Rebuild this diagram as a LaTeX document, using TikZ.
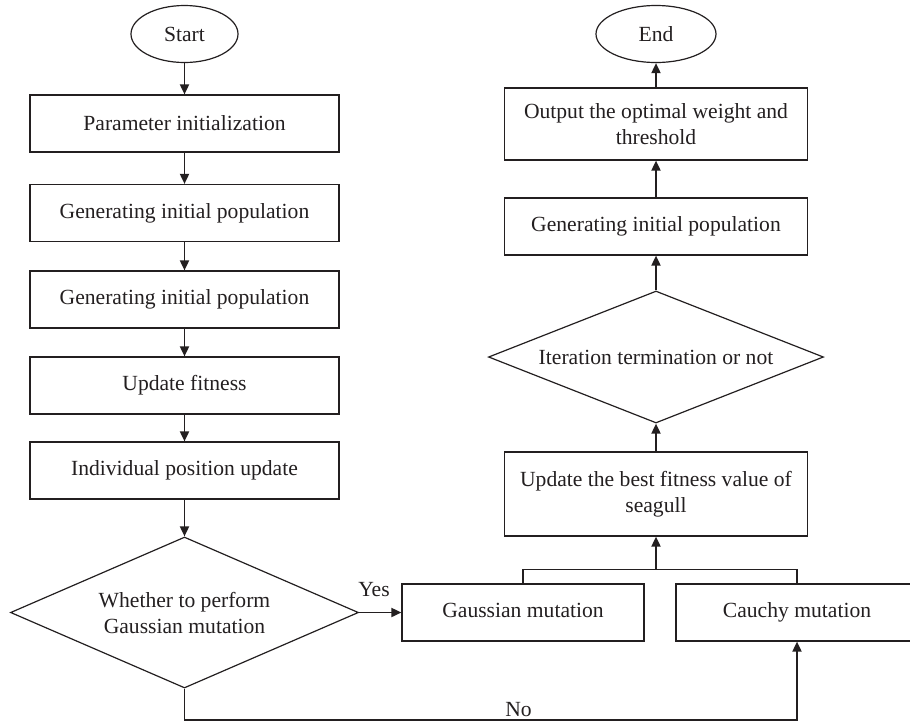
\documentclass[tikz,border=0pt]{standalone}
\usepackage{fontspec}
\setmainfont{Liberation Serif}
\usetikzlibrary{shapes.geometric,arrows.meta}
\definecolor{ink}{RGB}{35,31,32}
\tikzset{
  box/.style={draw=ink,line width=1.2pt,rectangle,minimum width=303pt,minimum height=57pt,inner sep=0pt,align=center},
  oval/.style={draw=ink,line width=1.2pt,ellipse,minimum height=57pt,inner sep=0pt},
  decision/.style={draw=ink,line width=1.2pt,diamond,inner sep=0pt,align=center},
  mutation/.style={box,minimum width=242pt,text height=15pt,text depth=5pt},
  flow/.style={draw=ink,line width=1.8pt,-{Triangle[length=10pt,width=9pt]}},
  wire/.style={draw=ink,line width=1.8pt},
}
\begin{document}
\begin{tikzpicture}[x=1pt,y=-1pt,font=\fontsize{21.6}{26}\selectfont,text=ink]
\useasboundingbox[fill=white] (0.000000,0.000000) rectangle (910.000000,724.000000);
% Drawing left column
\node[oval,minimum width=107pt] (start) at (184.500000,34.000000) {Start};
\node[box,minimum width=309pt] (param) at (184.500000,123.500000) {Parameter initialization};
\node[box,minimum width=309pt] (geninit) at (184.500000,213.000000) {Generating initial population};
\node[box,minimum width=309pt] (genagain) at (184.500000,299.500000) {Generating initial population};
\node[box,minimum width=309pt] (fitness) at (184.500000,385.500000) {Update fitness};
\node[box,minimum width=309pt] (position) at (184.500000,470.500000) {Individual position update};
\node[decision,aspect=2.304636,minimum width=348pt,minimum height=151pt] (gaussq) at (184.500000,612.500000) {Whether to perform\\Gaussian mutation};
% Done with left column; drawing mutation boxes
\node[mutation] (gauss) at (523.000000,612.500000) {Gaussian mutation};
\node[mutation] (cauchy) at (797.000000,612.500000) {Cauchy mutation};
% Done with mutation boxes; drawing right column
\node[box,minimum height=84pt] (best) at (656.000000,494.000000) {Update the best fitness value of\\seagull};
\node[decision,aspect=2.537879,minimum width=335pt,minimum height=132pt] (iterq) at (656.000000,357.000000) {Iteration termination or not};
\node[box] (genright) at (656.000000,226.500000) {Generating initial population};
\node[box,minimum height=72pt] (output) at (656.000000,124.000000) {Output the optimal weight and\\threshold};
\node[oval,minimum width=120pt] (end) at (656.000000,34.000000) {End};
% Done with right column; drawing arrows
\draw[flow] (start) -- (param);
\draw[flow] (param) -- (geninit);
\draw[flow] (geninit) -- (genagain);
\draw[flow] (genagain) -- (fitness);
\draw[flow] (fitness) -- (position);
\draw[flow] (position) -- (gaussq);
% Yes branch
\draw[flow] (gaussq.east) -- (gauss.west);
\node (yes) at (374.000000,589.500000) {Yes};
% No branch
\coordinate (nobend) at (184.500000,720.000000);
\draw[flow] (gaussq.south) -- (nobend) -| (cauchy.south);
\node (no) at (518.500000,709.500000) {No};
% Merge of both mutations
\coordinate (merge) at (656.000000,569.500000);
\draw[wire] (gauss.north) |- (merge);
\draw[wire] (cauchy.north) |- (merge);
\draw[flow] (merge) -- (best.south);
\draw[flow] (best) -- (iterq);
\draw[flow] (iterq) -- (genright);
\draw[flow] (genright) -- (output);
\draw[flow] (output) -- (end);
% Done with arrows
\end{tikzpicture}
\end{document}
